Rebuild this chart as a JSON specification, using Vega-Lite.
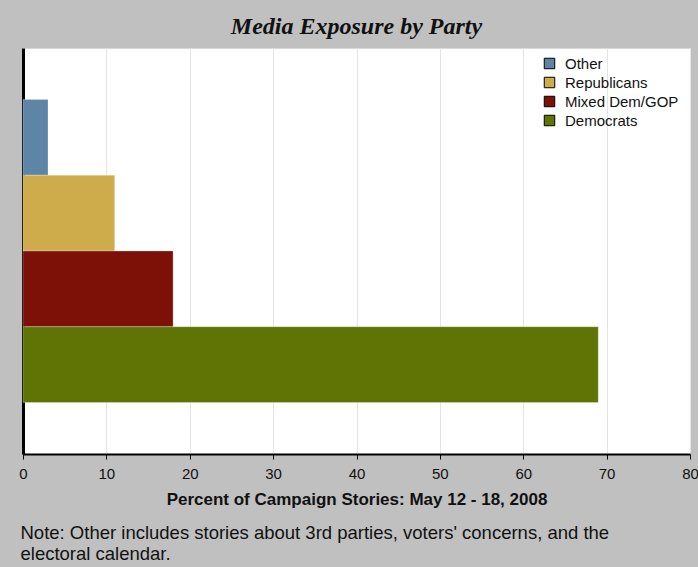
{
  "$schema": "https://vega.github.io/schema/vega-lite/v6.json",
  "autosize": "none",
  "width": 667,
  "height": 406,
  "padding": {"left": 23, "right": 8, "top": 48, "bottom": 113},
  "background": "#c0c0c0",
  "title": {
    "text": "Media Exposure by Party",
    "font": "Liberation Serif",
    "fontSize": 24,
    "fontWeight": "bold",
    "fontStyle": "italic",
    "color": "#111111",
    "anchor": "middle",
    "offset": 9
  },
  "data": {
    "values": [
      {"party": "Other", "pct": 3},
      {"party": "Republicans", "pct": 11},
      {"party": "Mixed Dem/GOP", "pct": 18},
      {"party": "Democrats", "pct": 69}
    ]
  },
  "mark": {"type": "bar", "stroke": "#ffffff", "strokeOpacity": 0.25, "strokeWidth": 1},
  "encoding": {
    "y": {
      "field": "party",
      "type": "nominal",
      "sort": ["Other", "Republicans", "Mixed Dem/GOP", "Democrats"],
      "scale": {"paddingInner": 0, "paddingOuter": 0.68},
      "axis": {
        "title": ["Note: Other includes stories about 3rd parties, voters' concerns, and the", "electoral calendar."],
        "titleAngle": 0,
        "titleAlign": "left",
        "titleBaseline": "top",
        "titleX": -3,
        "titleY": 475,
        "titleFont": "Liberation Sans",
        "titleFontSize": 18.5,
        "titleFontWeight": "normal",
        "titleColor": "#111111",
        "titleLineHeight": 21,
        "labels": false,
        "ticks": false,
        "domainColor": "#000000",
        "domainWidth": 3,
        "grid": false
      }
    },
    "x": {
      "field": "pct",
      "type": "quantitative",
      "scale": {"domain": [0, 80], "nice": false},
      "axis": {
        "title": "Percent of Campaign Stories: May 12 - 18, 2008",
        "values": [0, 10, 20, 30, 40, 50, 60, 70, 80],
        "titleFont": "Liberation Sans",
        "titleFontSize": 17,
        "titleFontWeight": "bold",
        "titleColor": "#111111",
        "titlePadding": 10,
        "labelFont": "Liberation Sans",
        "labelFontSize": 15,
        "labelColor": "#111111",
        "labelPadding": 7,
        "labelFlush": false,
        "tickColor": "#000000",
        "tickSize": 5,
        "domainColor": "#000000",
        "domainWidth": 2,
        "grid": true,
        "gridColor": "#e4e4e4",
        "gridWidth": 1
      }
    },
    "color": {
      "field": "party",
      "type": "nominal",
      "sort": ["Other", "Republicans", "Mixed Dem/GOP", "Democrats"],
      "scale": {
        "domain": ["Other", "Republicans", "Mixed Dem/GOP", "Democrats"],
        "range": ["#5e84a6", "#ceab4b", "#7d1007", "#607406"]
      },
      "legend": {
        "title": null,
        "orient": "none",
        "legendX": 519,
        "legendY": 8,
        "padding": 0,
        "symbolType": "square",
        "symbolSize": 110,
        "symbolStrokeColor": "#000000",
        "symbolStrokeWidth": 1,
        "symbolOpacity": 1,
        "labelFont": "Liberation Sans",
        "labelFontSize": 15,
        "labelColor": "#111111",
        "labelOffset": 8,
        "rowPadding": 3
      }
    }
  },
  "config": {
    "view": {"fill": "#ffffff", "stroke": "#d8d8d8"}
  }
}
